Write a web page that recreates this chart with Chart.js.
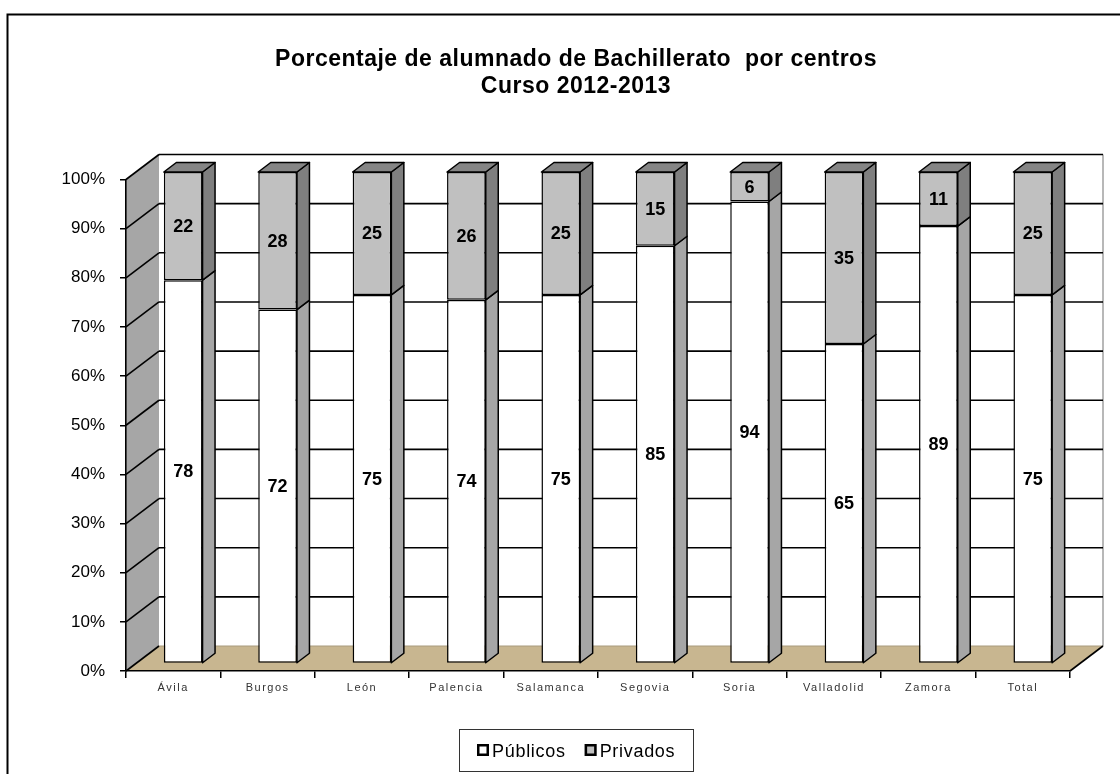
<!DOCTYPE html>
<html lang="es">
<head>
  <meta charset="UTF-8" />
  <title>Porcentaje de alumnado de Bachillerato por centros</title>
  <script src="https://cdn.jsdelivr.net/npm/chart.js"></script>
  <style>
    body { margin: 0; background: #ffffff; }
    canvas { display: block; }
  </style>
</head>
<body>
  <canvas id="chart" width="1120" height="774"></canvas>
  <script>
    // Data
    const provincias = ['Ávila', 'Burgos', 'León', 'Palencia', 'Salamanca', 'Segovia', 'Soria', 'Valladolid', 'Zamora', 'Total'];
    const publicos = [78, 72, 75, 74, 75, 85, 94, 65, 89, 75];
    const privados = [22, 28, 25, 26, 25, 15, 6, 35, 11, 25];
    const yTicks = [0, 10, 20, 30, 40, 50, 60, 70, 80, 90, 100];
    const titulo = ['Porcentaje de alumnado de Bachillerato  por centros', 'Curso 2012-2013'];

    const FONT = '"Liberation Sans", Arial, sans-serif';

    // fake 3D: wall depth, bar offset and bar depth (px)
    const WALL = { dx: 33, dy: -25 };
    const BAR_OFF = { dx: 10, dy: -7.5 };
    const BAR_D = { dx: 12.5, dy: -9.5 };

    function poly(ctx, pts, fill, stroke, lw) {
      ctx.beginPath();
      ctx.moveTo(pts[0][0], pts[0][1]);
      for (let i = 1; i < pts.length; i++) ctx.lineTo(pts[i][0], pts[i][1]);
      ctx.closePath();
      if (fill) { ctx.fillStyle = fill; ctx.fill(); }
      if (stroke) { ctx.strokeStyle = stroke; ctx.lineWidth = lw || 1.5; ctx.stroke(); }
    }

    function line(ctx, x1, y1, x2, y2, color, lw) {
      ctx.beginPath();
      ctx.moveTo(x1, y1);
      ctx.lineTo(x2, y2);
      ctx.strokeStyle = color;
      ctx.lineWidth = lw;
      ctx.stroke();
    }

    const walls3d = {
      id: 'walls3d',
      beforeDraw(chart) {
        const ctx = chart.ctx;
        const { left, right } = chart.chartArea;
        const ys = chart.scales.y;
        const y0 = ys.getPixelForValue(0), y100 = ys.getPixelForValue(100);
        ctx.save();
        ctx.fillStyle = '#ffffff';
        ctx.fillRect(0, 0, chart.width, chart.height);
        ctx.lineWidth = 2;
        ctx.strokeStyle = '#000';
        ctx.strokeRect(7.5, 14.5, 1400, 1000);

        // back wall
        poly(ctx, [[left + WALL.dx, y100 + WALL.dy], [right + WALL.dx, y100 + WALL.dy],
                   [right + WALL.dx, y0 + WALL.dy], [left + WALL.dx, y0 + WALL.dy]], '#ffffff');
        line(ctx, right + WALL.dx, y100 + WALL.dy, right + WALL.dx, y0 + WALL.dy, '#a0a0a0', 1.5);
        // side wall
        poly(ctx, [[left, y0], [left, y100], [left + WALL.dx, y100 + WALL.dy], [left + WALL.dx, y0 + WALL.dy]], '#a6a6a6');
        // floor
        poly(ctx, [[left, y0], [right, y0], [right + WALL.dx, y0 + WALL.dy], [left + WALL.dx, y0 + WALL.dy]], '#c8b690');
        line(ctx, left + WALL.dx, y0 + WALL.dy, right + WALL.dx, y0 + WALL.dy, '#a89a7c', 1);
        line(ctx, right, y0, right + WALL.dx, y0 + WALL.dy, '#000', 1.6);
        line(ctx, left, y0, left + WALL.dx, y0 + WALL.dy, '#000', 1.6);

        // gridlines on side and back walls
        yTicks.forEach(v => {
          if (v === 0) return;
          const y = ys.getPixelForValue(v);
          line(ctx, left, y, left + WALL.dx, y + WALL.dy, '#000', 1.6);
          line(ctx, left + WALL.dx, y + WALL.dy, right + WALL.dx, y + WALL.dy, '#000', 1.6);
        });
        ctx.restore();
      },
      beforeDatasetsDraw(chart) {
        chart.ctx.save();
        chart.ctx.translate(BAR_OFF.dx, BAR_OFF.dy);
      },
      afterDatasetsDraw(chart) {
        const ctx = chart.ctx;
        const n = chart.data.datasets.length;
        ctx.lineJoin = 'round';
        chart.data.datasets.forEach((ds, di) => {
          const meta = chart.getDatasetMeta(di);
          meta.data.forEach(bar => {
            const { x, y, base, width } = bar.getProps(['x', 'y', 'base', 'width'], true);
            const l = x - width / 2, r = x + width / 2;
            poly(ctx, [[r, y], [r + BAR_D.dx, y + BAR_D.dy], [r + BAR_D.dx, base + BAR_D.dy], [r, base]],
                 ds.sideColor, '#000', 1.5);
            if (di === n - 1) {
              poly(ctx, [[l, y], [r, y], [r + BAR_D.dx, y + BAR_D.dy], [l + BAR_D.dx, y + BAR_D.dy]],
                   '#858585', '#000', 1.5);
            }
          });
        });
        // value labels on the front faces
        ctx.font = 'bold 18px ' + FONT;
        ctx.fillStyle = '#000';
        ctx.textAlign = 'center';
        ctx.textBaseline = 'middle';
        chart.data.datasets.forEach((ds, di) => {
          chart.getDatasetMeta(di).data.forEach((bar, i) => {
            const { x, y, base } = bar.getProps(['x', 'y', 'base'], true);
            ctx.fillText(String(ds.data[i]), x, (y + base) / 2 + 1);
          });
        });
        ctx.restore();
        // spaced-out category labels (drawn after this hook, z = 1)
        ctx.letterSpacing = '1.5px';
      },
      afterDraw(chart) {
        const ctx = chart.ctx;
        ctx.save();
        // title
        ctx.fillStyle = '#000';
        ctx.textAlign = 'center';
        ctx.textBaseline = 'alphabetic';
        ctx.font = 'bold 23px ' + FONT;
        ctx.letterSpacing = '0.5px';
        ctx.fillText(titulo[0], 576, 66);
        ctx.fillText(titulo[1], 576, 93);

        // legend
        ctx.letterSpacing = '0.7px';
        ctx.font = '18px ' + FONT;
        ctx.textAlign = 'left';
        ctx.strokeStyle = '#333';
        ctx.lineWidth = 1;
        ctx.strokeRect(459.5, 729.5, 234, 42);
        let lx = 477;
        chart.data.datasets.forEach(ds => {
          ctx.fillStyle = ds.backgroundColor;
          ctx.fillRect(lx, 744, 12, 12);
          ctx.strokeStyle = '#000';
          ctx.lineWidth = 2.5;
          ctx.strokeRect(lx + 1.25, 745.25, 9.5, 9.5);
          ctx.fillStyle = '#000';
          ctx.fillText(ds.label, lx + 15, 757);
          lx += 15 + ctx.measureText(ds.label).width + 19;
        });
        ctx.restore();
        ctx.letterSpacing = '0px';
      }
    };

    new Chart(document.getElementById('chart'), {
      type: 'bar',
      data: {
        labels: provincias,
        datasets: [
          { label: 'Públicos', data: publicos, backgroundColor: '#ffffff', sideColor: '#a6a6a6',
            borderColor: '#000', borderWidth: 1.5, borderSkipped: false, clip: false },
          { label: 'Privados', data: privados, backgroundColor: '#c0c0c0', sideColor: '#7f7f7f',
            borderColor: '#000', borderWidth: 1.5, borderSkipped: false, clip: false }
        ]
      },
      options: {
        responsive: false,
        animation: false,
        barPercentage: 0.41,
        categoryPercentage: 1,
        layout: { padding: { left: 0, right: 50, top: 179.5, bottom: 45 } },
        scales: {
          x: {
            stacked: true,
            afterFit(scale) { scale.height = 58; },
            grid: { drawOnChartArea: false, drawTicks: true, tickLength: 7, color: '#000', lineWidth: 1.5 },
            border: { display: true, color: '#000', width: 1.6 },
            ticks: { z: 1, padding: 3, color: '#333', font: { family: FONT, size: 11 } }
          },
          y: {
            stacked: true,
            min: 0,
            max: 100,
            afterFit(scale) { scale.width = 126; },
            afterBuildTicks(scale) { scale.ticks = yTicks.map(v => ({ value: v })); },
            grid: { drawOnChartArea: false, drawTicks: true, tickLength: 6, color: '#000', lineWidth: 1.5 },
            border: { display: true, color: '#000', width: 1.6 },
            ticks: { padding: 15, color: '#000', font: { family: FONT, size: 17 }, callback: v => v + '%' }
          }
        },
        plugins: {
          title: { display: false },
          legend: { display: false },
          tooltip: { enabled: false }
        }
      },
      plugins: [walls3d]
    });
  </script>
</body>
</html>
